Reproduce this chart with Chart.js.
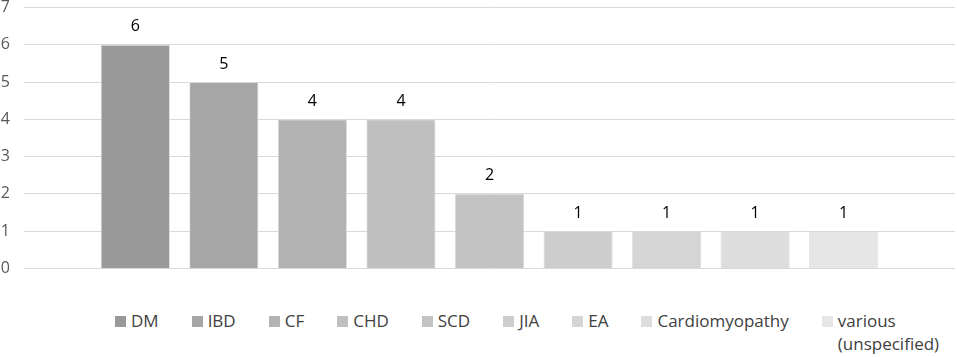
<!DOCTYPE html>
<html>
<head>
<meta charset="utf-8">
<script src="https://cdn.jsdelivr.net/npm/chart.js@4.4.0/dist/chart.umd.min.js"></script>
<style>
  html, body { margin: 0; padding: 0; background: #fff; overflow: hidden; }
  #wrap { position: relative; width: 957px; height: 357px; overflow: hidden; }
  #box { position: absolute; left: 0; top: -16px; width: 957px; height: 308px; }
  #legend { position: absolute; left: 0; top: 309px; width: 957px; display: flex; justify-content: flex-start; align-items: flex-start; font-family: "Open Sans", sans-serif; font-size: 17px; color: #404040; padding-left: 115px; box-sizing: border-box; }
  .item { display: flex; align-items: flex-start; margin-right: 33px; line-height: 23px; }
  .item:last-child { margin-right: 0; }
  .sw { width: 11px; height: 11px; margin-top: 7px; margin-right: 5px; flex: none; }
</style>
</head>
<body>
<div id="wrap">
  <div id="box"><canvas id="c"></canvas></div>
  <div id="legend"></div>
</div>
<script>
const categories = ["DM", "IBD", "CF", "CHD", "SCD", "JIA", "EA", "Cardiomyopathy", "various (unspecified)"];
const legendLines = [["DM"], ["IBD"], ["CF"], ["CHD"], ["SCD"], ["JIA"], ["EA"], ["Cardiomyopathy"], ["various", "(unspecified)"]];
const values = [6, 5, 4, 4, 2, 1, 1, 1, 1];
const colors = ["#999999", "#a6a6a6", "#b3b3b3", "#bfbfbf", "#c3c3c3", "#cdcdcd", "#d5d5d5", "#dddddd", "#e6e6e6"];
const yTicks = [0, 1, 2, 3, 4, 5, 6, 7];

const datasets = categories.map((name, i) => ({
  label: name,
  data: [values[i]],
  backgroundColor: colors[i],
  borderColor: "#d9d9d9",
  borderWidth: 0.8,
  categoryPercentage: 0.856,
  barPercentage: 0.78
}));

const labelPlugin = {
  id: "valueLabels",
  afterDatasetsDraw(chart) {
    const ctx = chart.ctx;
    ctx.save();
    ctx.font = "16px 'Open Sans', sans-serif";
    ctx.fillStyle = "#000000";
    ctx.textAlign = "center";
    ctx.textBaseline = "middle";
    chart.data.datasets.forEach((ds, i) => {
      const meta = chart.getDatasetMeta(i);
      meta.data.forEach((bar, j) => {
        ctx.fillText(String(ds.data[j]), bar.x, bar.y - 18);
      });
    });
    ctx.restore();
  }
};

new Chart(document.getElementById("c"), {
  type: "bar",
  data: { labels: [""], datasets },
  options: {
    responsive: true,
    maintainAspectRatio: false,
    animation: false,
    layout: { padding: { top: 0, right: 2, bottom: 0, left: 0 } },
    plugins: { legend: { display: false }, tooltip: { enabled: false } },
    scales: {
      x: { display: false },
      y: {
        min: 0, max: 7,
        afterBuildTicks(s) { s.ticks = yTicks.map(v => ({ value: v })); },
        afterFit(s) { s.width = 24; },
        border: { display: false },
        grid: { color: "#d9d9d9", lineWidth: 1, drawTicks: false },
        ticks: { padding: 14, color: "#595959", font: { family: "'Open Sans', sans-serif", size: 16 } }
      }
    }
  },
  plugins: [labelPlugin]
});

const leg = document.getElementById("legend");
categories.forEach((name, i) => {
  const it = document.createElement("div");
  it.className = "item";
  const sw = document.createElement("div");
  sw.className = "sw";
  sw.style.background = colors[i];
  const tx = document.createElement("div");
  tx.innerHTML = legendLines[i].join("<br>");
  it.appendChild(sw);
  it.appendChild(tx);
  leg.appendChild(it);
});
</script>
</body>
</html>
